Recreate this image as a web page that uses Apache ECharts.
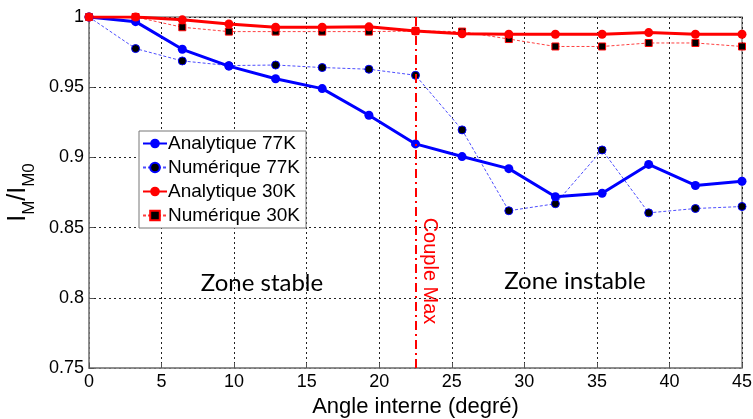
<!DOCTYPE html>
<html>
<head>
<meta charset="utf-8">
<script src="https://cdn.jsdelivr.net/npm/echarts@6/dist/echarts.min.js"></script>
<style>
    html, body {margin: 0; padding: 0; background: #fff;}
    #chart {width: 753px; height: 419px;}
</style>
</head>
<body>
<div id="chart"></div>
<script>
    // angles (degré)
    var angles = [0, 3.21, 6.43, 9.64, 12.86, 16.07, 19.29, 22.5, 25.71, 28.93, 32.14, 35.36, 38.57, 41.79, 45];

    var analytique77 = [1.0, 0.9967, 0.977, 0.965, 0.956, 0.949, 0.930, 0.9096, 0.9006, 0.892, 0.872, 0.8745, 0.895, 0.880, 0.883];
    var numerique77 = [1.0, 0.9775, 0.9687, 0.9654, 0.9658, 0.964, 0.9628, 0.9585, 0.9196, 0.862, 0.867, 0.9053, 0.8605, 0.8636, 0.865];
    var analytique30 = [1.0, 1.0, 0.998, 0.995, 0.9927, 0.9927, 0.993, 0.990, 0.988, 0.9877, 0.9877, 0.9877, 0.9889, 0.9877, 0.9877];
    var numerique30 = [1.0, 1.0, 0.9927, 0.9896, 0.9896, 0.9896, 0.9896, 0.990, 0.9896, 0.9843, 0.979, 0.979, 0.9815, 0.9815, 0.979];

    var coupleMax = 22.5;

    var xTicks = {min: 0, max: 45, step: 5};
    var yTicks = {min: 0.75, max: 1, step: 0.05};

    function pairs(values) {
        return angles.map(function (a, i) {
            return [a, values[i]];
        });
    }

    var font = 'Liberation Sans, Arial, sans-serif';
    var gridLine = {show: true, lineStyle: {color: '#222', type: [2, 3], width: 1}};

    var myChart = echarts.init(document.getElementById('chart'));

    var option = {
        animation: false,
        grid: {
            left: 89, right: 11, top: 17, bottom: 51,
            outerBoundsMode: 'none',
            containLabel: false,
            show: true, borderColor: '#888', borderWidth: 1.5
        },
        legend: {
            orient: 'vertical',
            left: 139,
            top: 131,
            backgroundColor: '#fff',
            borderColor: '#777',
            borderWidth: 1,
            padding: [3, 6, 3, 3],
            itemGap: 5,
            itemWidth: 24,
            itemHeight: 12,
            textStyle: {fontFamily: font, fontSize: 19, color: '#000', padding: [0, 0, 0, -4]},
            data: ['Analytique 77K', 'Numérique 77K', 'Analytique 30K', 'Numérique 30K']
        },
        xAxis: {
            type: 'value',
            min: xTicks.min, max: xTicks.max, interval: xTicks.step,
            name: 'Angle interne (degré)',
            nameLocation: 'middle',
            nameGap: 26,
            nameTextStyle: {fontFamily: font, fontSize: 22, color: '#000'},
            axisLine: {show: true, lineStyle: {color: '#888', width: 1.5}},
            axisTick: {show: true, inside: true, length: 5, lineStyle: {color: '#555'}},
            axisLabel: {fontFamily: font, fontSize: 18, color: '#000', margin: 5},
            splitLine: gridLine
        },
        yAxis: {
            type: 'value',
            min: yTicks.min, max: yTicks.max, interval: yTicks.step,
            name: '{m|I}{s|M}{m|/I}{s|M0}',
            nameLocation: 'middle',
            nameRotate: 90,
            nameGap: 46,
            nameTextStyle: {
                rich: {
                    m: {fontFamily: font, fontSize: 25, color: '#000', lineHeight: 32, verticalAlign: 'top'},
                    s: {fontFamily: font, fontSize: 17, color: '#000', lineHeight: 32, verticalAlign: 'bottom', padding: [12, 0, 0, 0]}
                }
            },
            axisLine: {show: true, lineStyle: {color: '#888', width: 1.5}},
            axisTick: {show: true, inside: true, length: 5, lineStyle: {color: '#555'}},
            axisLabel: {
                fontFamily: font, fontSize: 18, color: '#000', margin: 5,
                formatter: function (v) {
                    return parseFloat(v.toFixed(2)).toString();
                }
            },
            splitLine: gridLine
        },
        series: [
            {
                name: 'Analytique 77K',
                type: 'line',
                data: pairs(analytique77),
                symbol: 'circle',
                symbolSize: 9,
                lineStyle: {color: '#0000ff', width: 3},
                itemStyle: {color: '#0000ff'},
                z: 4
            },
            {
                name: 'Numérique 77K',
                type: 'line',
                data: pairs(numerique77),
                symbol: 'circle',
                symbolSize: 8,
                lineStyle: {color: '#4d4dff', width: 1, type: [3, 2]},
                itemStyle: {color: '#000', borderColor: '#0000ff', borderWidth: 1},
                z: 3
            },
            {
                name: 'Analytique 30K',
                type: 'line',
                data: pairs(analytique30),
                symbol: 'circle',
                symbolSize: 9,
                lineStyle: {color: '#ff0000', width: 3},
                itemStyle: {color: '#ff0000'},
                z: 4,
                markLine: {
                    silent: true,
                    symbol: ['none', 'none'],
                    label: {show: false},
                    lineStyle: {color: '#ff0000', width: 2, type: [9, 4, 2, 4]},
                    data: [{xAxis: coupleMax}]
                }
            },
            {
                name: 'Numérique 30K',
                type: 'line',
                data: pairs(numerique30),
                symbol: 'rect',
                symbolSize: 7,
                lineStyle: {color: '#ff4040', width: 1, type: [3, 2]},
                itemStyle: {color: '#000', borderColor: '#ff0000', borderWidth: 1},
                z: 3
            }
        ],
        graphic: [
            {
                type: 'text',
                x: 262, y: 283,
                style: {
                    text: 'Zone stable',
                    fontFamily: 'Lato, Open Sans, sans-serif',
                    fontSize: 24,
                    fill: '#000',
                    align: 'center',
                    verticalAlign: 'middle'
                }
            },
            {
                type: 'text',
                x: 575, y: 281,
                style: {
                    text: 'Zone instable',
                    fontFamily: 'Lato, Open Sans, sans-serif',
                    fontSize: 24,
                    fill: '#000',
                    align: 'center',
                    verticalAlign: 'middle'
                }
            },
            {
                type: 'text',
                x: 430, y: 271,
                rotation: -Math.PI / 2,
                style: {
                    text: 'Couple Max',
                    fontFamily: font,
                    fontSize: 20,
                    fill: '#ff0000',
                    align: 'center',
                    verticalAlign: 'middle'
                }
            }
        ]
    };

    myChart.setOption(option);
</script>
</body>
</html>
